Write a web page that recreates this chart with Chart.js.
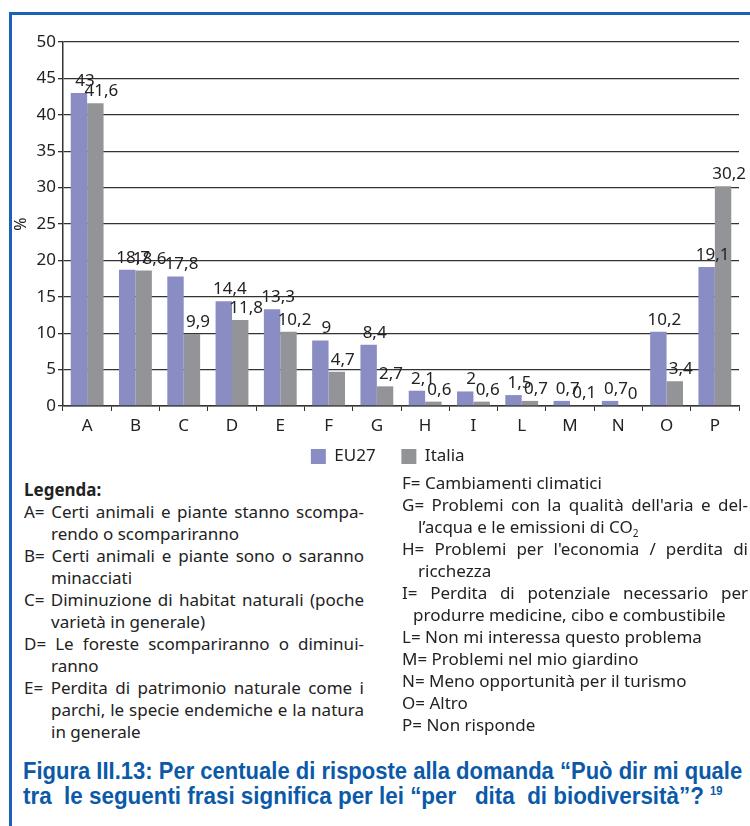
<!DOCTYPE html>
<html>
<head>
<meta charset="utf-8">
<script src="https://cdn.jsdelivr.net/npm/chart.js@4.4.1/dist/chart.umd.min.js"></script>
<style>
body { margin:0; width:750px; height:826px; background:#fff; position:relative; overflow:hidden; font-family:"Noto Sans", Arial, sans-serif; color:#222; }
#frame { position:absolute; left:9px; top:12px; right:0; bottom:0; border-top:3px solid #1a62b8; border-left:3px solid #1a62b8; }
#wrap { position:absolute; left:12px; top:14px; }
.col { position:absolute; font-size:17px; line-height:22px; }
.col div { white-space:nowrap; }
.j { text-align:justify; text-align-last:justify; }
#left { left:24px; top:479px; width:340px; }
#right { left:402px; top:472px; width:346px; }
#left .ind { padding-left:27px; }
#right .ind { padding-left:16px; }
sub { font-size:10px; line-height:0; }
#caption { position:absolute; left:23px; top:758px; color:#0b5aa8; font-family:"Liberation Sans", Arial, sans-serif; font-weight:bold; font-size:24px; line-height:25px; }
#caption span { display:inline-block; white-space:nowrap; transform-origin:0 50%; }
#caption sup { font-size:12px; line-height:0; }
</style>
</head>
<body>
<div id="frame"></div>
<div id="wrap"><canvas id="chart" width="738" height="461"></canvas></div>

<div id="left" class="col">
  <div style="font-weight:bold">Legenda:</div>
  <div class="j">A= Certi animali e piante stanno scompa-</div>
  <div class="ind">rendo o scompariranno</div>
  <div class="j">B= Certi animali e piante sono o saranno</div>
  <div class="ind">minacciati</div>
  <div class="j">C= Diminuzione di habitat naturali (poche</div>
  <div class="ind">varietà in generale)</div>
  <div class="j">D= Le foreste scompariranno o diminui-</div>
  <div class="ind">ranno</div>
  <div class="j">E= Perdita di patrimonio naturale come i</div>
  <div class="ind j">parchi, le specie endemiche e la natura</div>
  <div class="ind">in generale</div>
</div>

<div id="right" class="col">
  <div>F= Cambiamenti climatici</div>
  <div class="j">G= Problemi con la qualità dell'aria e del-</div>
  <div class="ind">l’acqua e le emissioni di CO<sub>2</sub></div>
  <div class="j">H= Problemi per l'economia / perdita di</div>
  <div class="ind">ricchezza</div>
  <div class="j">I= Perdita di potenziale necessario per</div>
  <div style="padding-left:11px">produrre medicine, cibo e combustibile</div>
  <div>L= Non mi interessa questo problema</div>
  <div>M= Problemi nel mio giardino</div>
  <div>N= Meno opportunità per il turismo</div>
  <div>O= Altro</div>
  <div>P= Non risponde</div>
</div>

<div id="caption">
  <div><span data-w="719">Figura III.13: Per centuale di risposte alla domanda “Può dir mi quale</span></div>
  <div><span data-w="700">tra&nbsp; le seguenti frasi significa per lei “per &nbsp; dita&nbsp; di biodiversità”? <sup>19</sup></span></div>
</div>

<script>
// categorie e valori
var categories = ["A", "B", "C", "D", "E", "F", "G", "H", "I", "L", "M", "N", "O", "P"];
var eu27 = [43, 18.7, 17.8, 14.4, 13.3, 9, 8.4, 2.1, 2, 1.5, 0.7, 0.7, 10.2, 19.1];
var italia = [41.6, 18.6, 9.9, 11.8, 10.2, 4.7, 2.7, 0.6, 0.6, 0.7, 0.1, 0, 3.4, 30.2];
var yTicks = [0, 5, 10, 15, 20, 25, 30, 35, 40, 45, 50];

var FONT = "Noto Sans";

// didascalia stretta (font condensato simulato)
document.querySelectorAll('#caption span').forEach(function(s) {
	var k = Number(s.getAttribute('data-w')) / s.offsetWidth;
	s.style.transform = 'scaleX(' + k + ')';
});

// etichette dei valori sopra le barre (virgola decimale)
var valueLabels = {
	id: 'valueLabels',
	afterDatasetsDraw: function(chart) {
		var ctx = chart.ctx;
		ctx.save();
		ctx.font = '17px "' + FONT + '"';
		ctx.fillStyle = '#222';
		ctx.textAlign = 'center';
		ctx.textBaseline = 'alphabetic';
		chart.data.datasets.forEach(function(ds, i) {
			var meta = chart.getDatasetMeta(i);
			meta.data.forEach(function(bar, j) {
				var txt = String(ds.data[j]).replace('.', ',');
				ctx.fillText(txt, bar.x + 6, bar.y - 7);
			});
		});
		ctx.restore();
	}
};

new Chart(document.getElementById('chart'), {
	type: 'bar',
	data: {
		labels: categories,
		datasets: [
			{ label: 'EU27', data: eu27, backgroundColor: '#8a8dc3', borderWidth: 0 },
			{ label: 'Italia', data: italia, backgroundColor: '#939497', borderWidth: 0 }
		]
	},
	options: {
		responsive: false,
		animation: false,
		devicePixelRatio: 1,
		layout: { padding: { top: 28, right: 11, left: 0, bottom: 0 } },
		datasets: { bar: { categoryPercentage: 0.68, barPercentage: 1.0 } },
		plugins: {
			tooltip: { enabled: false },
			legend: {
				position: 'bottom',
				fullSize: false,
				labels: {
					boxWidth: 15, boxHeight: 15, padding: 8,
					color: '#222', font: { family: FONT, size: 17 },
					generateLabels: function(chart) {
						var items = Chart.defaults.plugins.legend.labels.generateLabels(chart);
						// spazio più largo tra le voci e riga spostata un po' a sinistra
						items[0].text = items[0].text + '    ';
						items[1].text = items[1].text + '      ';
						return items;
					}
				}
			}
		},
		scales: {
			x: {
				grid: { display: true, drawOnChartArea: false, offset: true, tickLength: 5, color: '#333', lineWidth: 1 },
				border: { color: '#333', width: 1.5 },
				ticks: { color: '#222', padding: 5, font: { family: FONT, size: 17 } },
				afterFit: function(s) { s.height = 34; }
			},
			y: {
				min: 0, max: 50,
				afterBuildTicks: function(s) { s.ticks = yTicks.map(function(v) { return { value: v }; }); },
				grid: { color: '#333', lineWidth: 1.3, tickLength: 5 },
				border: { color: '#333', width: 1.5 },
				ticks: { color: '#222', padding: 2, font: { family: FONT, size: 17 } },
				title: { display: true, text: '%', color: '#222', padding: 0, font: { family: FONT, size: 16 } },
				afterFit: function(s) { s.width = 51; }
			}
		}
	},
	plugins: [valueLabels]
});
</script>
</body>
</html>
